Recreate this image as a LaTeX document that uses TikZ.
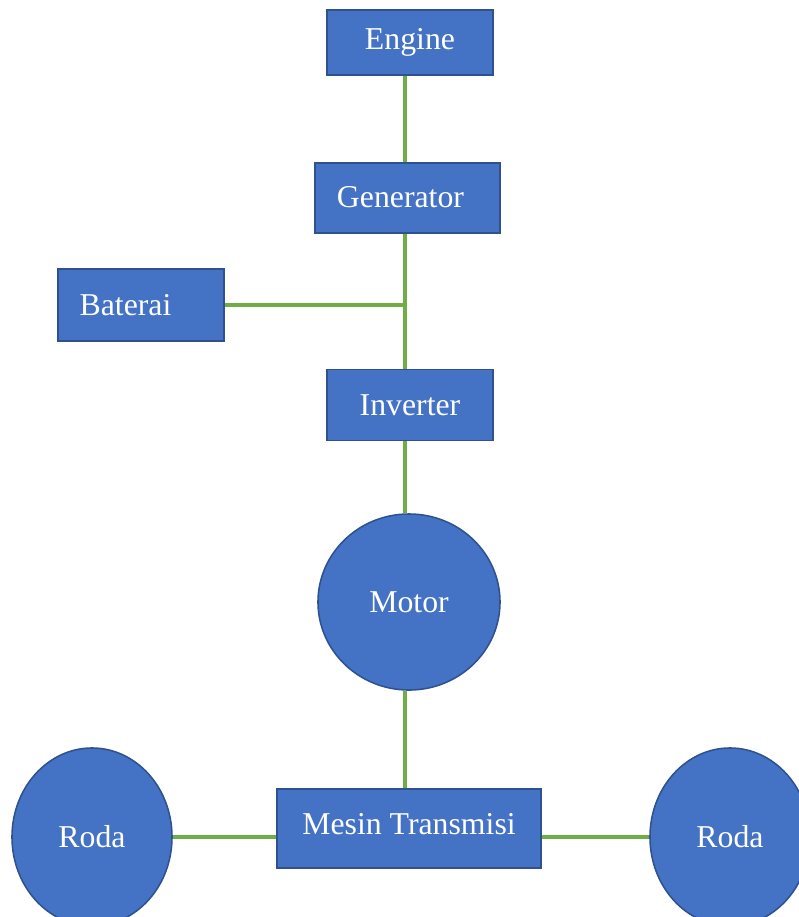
\documentclass[tikz,border=0pt]{standalone}
\usepackage{fontspec}
\setmainfont{Liberation Serif}
\usepackage{xcolor}
\usetikzlibrary{shapes.geometric}
\definecolor{kotak}{HTML}{4472C4}
\definecolor{tepi}{HTML}{2F528F}
\definecolor{kabel}{HTML}{70AD47}
\tikzset{
    blok/.style={rectangle, draw=tepi, fill=kotak, line width=1.1pt, text=white,
        font=\fontsize{22.6}{27}\selectfont, inner sep=0pt},
    bulat/.style={ellipse, draw=tepi, fill=kotak, line width=1.1pt, text=white,
        font=\fontsize{22.6}{27}\selectfont, inner sep=0pt},
    hubung/.style={draw=kabel, line width=2.4pt}
}

\begin{document}
\begin{tikzpicture}[x=0.025cm, y=-0.025cm]
        \useasboundingbox (0, 0) rectangle (799, 917);
        \clip (0, 0) rectangle (799, 917);

        \coordinate (poros) at (405, 0);

        \node[blok, minimum width=4.15cm, minimum height=1.625cm] (engine) at (410, 42.5) {Engine};
        \node[blok, minimum width=4.625cm, minimum height=1.75cm] (gen) at (407.5, 198) {\raisebox{2pt}{Generator}\hspace*{10pt}};
        \node[blok, minimum width=4.15cm, minimum height=1.8cm] (bat) at (141, 305) {Baterai\hspace*{22pt}};
        \node[blok, minimum width=4.15cm, minimum height=1.775cm] (inv) at (410, 405) {Inverter};

        \node[bulat, minimum width=4.55cm, minimum height=4.4cm] (motor) at (409, 602) {Motor};

        %%%

        \node[blok, minimum width=6.6cm, minimum height=1.975cm] (mesin) at (409, 828.5) {\raisebox{6pt}{Mesin Transmisi}};
        \node[bulat, minimum width=4.0cm, minimum height=4.45cm] (rodakiri) at (92, 837) {Roda};
        \node[bulat, minimum width=4.0cm, minimum height=4.45cm] (rodakanan) at (730, 837) {Roda};

        \draw[hubung] (engine.south -| poros) -- (gen.north -| poros);
        \draw[hubung] (gen.south -| poros) -- (inv.north -| poros);
        \draw[hubung] (bat.east) -- (bat.east -| poros);
        \draw[hubung] (inv.south -| poros) -- (motor.north -| poros);
        \draw[hubung] (motor.south -| poros) -- (mesin.north -| poros);
        \draw[hubung] (rodakiri.east) -- (rodakiri.east -| mesin.west);
        \draw[hubung] (mesin.east |- rodakanan.west) -- (rodakanan.west);
    \end{tikzpicture}
\end{document}
